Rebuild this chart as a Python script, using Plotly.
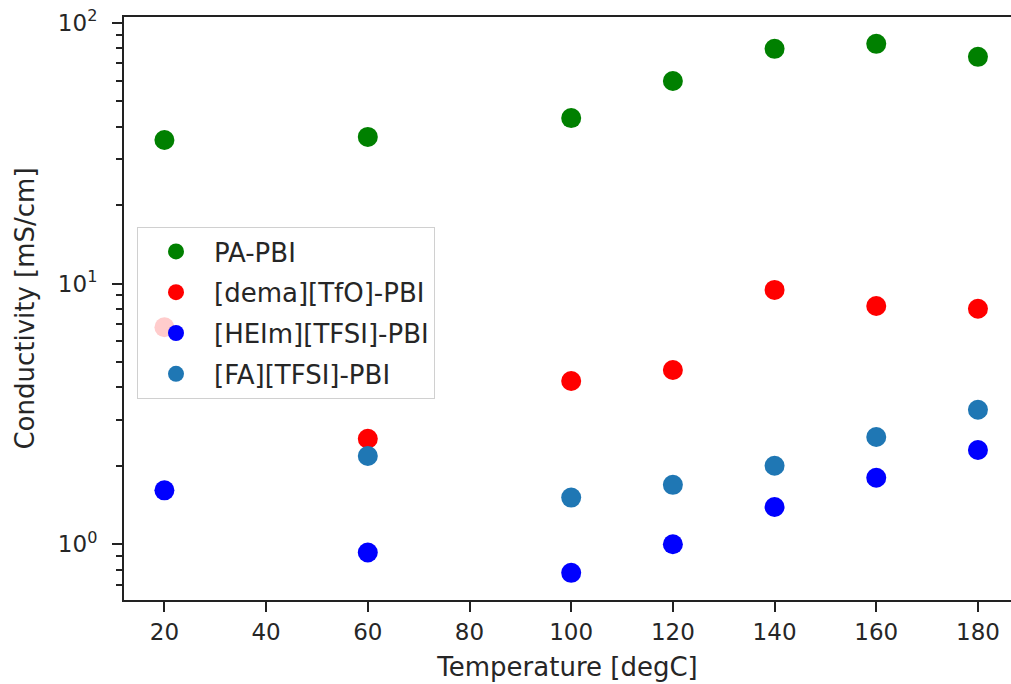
import plotly.graph_objects as go

temperature = [20, 60, 100, 120, 140, 160, 180]
pa_pbi = [35.5, 36.5, 43.1, 59.8, 79.4, 83.0, 74.0]
dema_tfo_pbi = [6.8, 2.54, 4.23, 4.66, 9.45, 8.2, 8.0]
heim_tfsi_pbi = [1.61, 0.93, 0.777, 1.0, 1.39, 1.80, 2.30]
fa_tfsi_pbi = [None, 2.18, 1.51, 1.69, 2.0, 2.58, 3.28]

series_names = ["PA-PBI", "[dema][TfO]-PBI", "[HEIm][TFSI]-PBI", "[FA][TFSI]-PBI"]
series_values = [pa_pbi, dema_tfo_pbi, heim_tfsi_pbi, fa_tfsi_pbi]
series_colors = ["#008000", "#ff0000", "#0000ff", "#1f77b4"]

x_ticks = [20, 40, 60, 80, 100, 120, 140, 160, 180]
y_ticks = [1, 10, 100]
y_ticktext = ["10<sup>0</sup>", "10<sup>1</sup>", "10<sup>2</sup>"]
y_minor = [0.7, 0.8, 0.9, 2, 3, 4, 5, 6, 7, 8, 9, 20, 30, 40, 50, 60, 70, 80, 90]

FONT = "DejaVu Sans"
AX = "#222222"

fig = go.Figure()
for i, (name, vals, col) in enumerate(zip(series_names, series_values, series_colors)):
    fig.add_trace(go.Scatter(
        x=temperature, y=vals, mode="markers", name=name, legendgroup=f"g{i}",
        marker=dict(color=col, size=20, line=dict(width=0)),
    ))

# plot area spans x 124..1011 (right spine cropped off), y 17..600
fig.update_layout(
    width=1011, height=684,
    margin=dict(l=124, r=0, t=17, b=84),
    paper_bgcolor="white", plot_bgcolor="white",
    font=dict(family=FONT, size=23, color="#262626"),
    showlegend=True,
    legend=dict(
        x=(137 - 124) / 887, y=(600 - 227) / 583, xanchor="left", yanchor="top",
        bgcolor="rgba(255,255,255,0.8)", bordercolor="#d0d0d0", borderwidth=1,
        font=dict(family=FONT, size=26, color="#262626"),
        itemwidth=66, tracegroupgap=4,
    ),
    xaxis=dict(
        range=[12.05, 186.5], tickvals=x_ticks, automargin=False,
        showline=True, linecolor=AX, linewidth=2, mirror=True,
        ticks="outside", ticklen=10, tickwidth=2, tickcolor=AX,
        showgrid=False, zeroline=False, ticklabeloverflow="allow",
        tickfont=dict(size=23),
        title=dict(text="Temperature [degC]", font=dict(size=26), standoff=14),
    ),
    yaxis=dict(
        type="log", range=[-0.2136, 2.022], automargin=False,
        tickvals=y_ticks, ticktext=y_ticktext,
        showline=True, linecolor=AX, linewidth=2, mirror=False,
        ticks="outside", ticklen=10, tickwidth=2, tickcolor=AX,
        ticklabelstandoff=10, ticklabeloverflow="allow",
        minor=dict(tickvals=y_minor, ticks="outside", ticklen=6, tickwidth=1.5, tickcolor=AX, showgrid=False),
        showgrid=False, zeroline=False,
        tickfont=dict(size=23),
        title=dict(text="Conductivity [mS/cm]", font=dict(size=26), standoff=16),
    ),
)

fig.write_html(
    "out.html",
    config={"displayModeBar": False},
    post_script="document.body.style.margin='0';document.body.style.overflow='hidden';",
)
